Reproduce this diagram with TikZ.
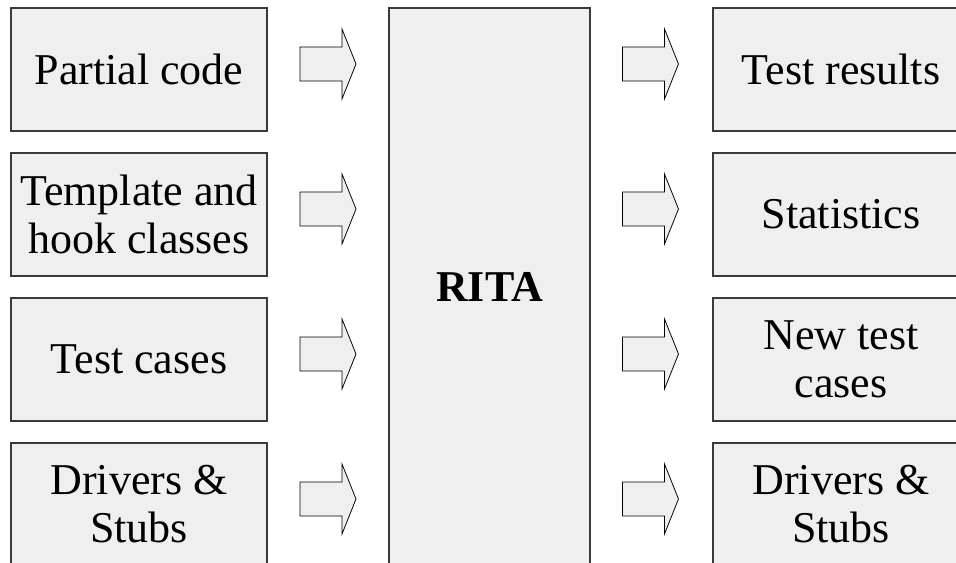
\documentclass[tikz,border=0pt]{standalone}
\usepackage{fontspec}
\setmainfont{Liberation Serif}
\definecolor{boxfill}{HTML}{EFEFEF}
\definecolor{boxline}{HTML}{3A3A3A}
\tikzset{
  block/.style={draw=boxline, fill=boxfill, line width=0.9pt,
    minimum width=192pt, minimum height=92.25pt, inner sep=0pt,
    align=center, font=\fontsize{33}{36}\selectfont},
  hub/.style={draw=boxline, fill=boxfill, line width=0.9pt,
    minimum width=150.75pt, minimum height=418.5pt, inner sep=0pt,
    font=\bfseries\fontsize{33}{36}\selectfont},
  blockarrow/.pic={
    \draw[draw=black, fill=boxfill, line width=0.6pt]
      (0,-17) -- (42,-17) -- (42,-35) -- (56,0) -- (42,35) -- (42,17) -- (0,17) -- cycle;
  }
}
\begin{document}
\begin{tikzpicture}[x=0.75pt, y=-0.75pt]
  \useasboundingbox (0,0) rectangle (956,562);
  \clip (0,0) rectangle (956,562);

  % inputs
  \node[block] (in1) at (139,69.5)  {Partial code};
  \node[block] (in2) at (139,214.5) {Template and\\hook classes};
  \node[block] (in3) at (139,359.5) {Test cases};
  \node[block] (in4) at (139,504.5) {Drivers \&\\Stubs};

  % the tool
  \node[hub] (rita) at (489.5,287) {RITA};

  % outputs
  \node[block] (out1) at (841,69.5)  {Test results};
  \node[block] (out2) at (841,214.5) {Statistics};
  \node[block] (out3) at (841,359.5) {New test\\cases};
  \node[block] (out4) at (841,504.5) {Drivers \&\\Stubs};

  % flow arrows
  \foreach \r/\y in {1/64, 2/209, 3/354, 4/499} {
    \coordinate (ia\r) at (300,\y);
    \coordinate (oa\r) at (622.5,\y);
    \pic at (ia\r) {blockarrow};
    \pic at (oa\r) {blockarrow};
  }
\end{tikzpicture}
\end{document}
